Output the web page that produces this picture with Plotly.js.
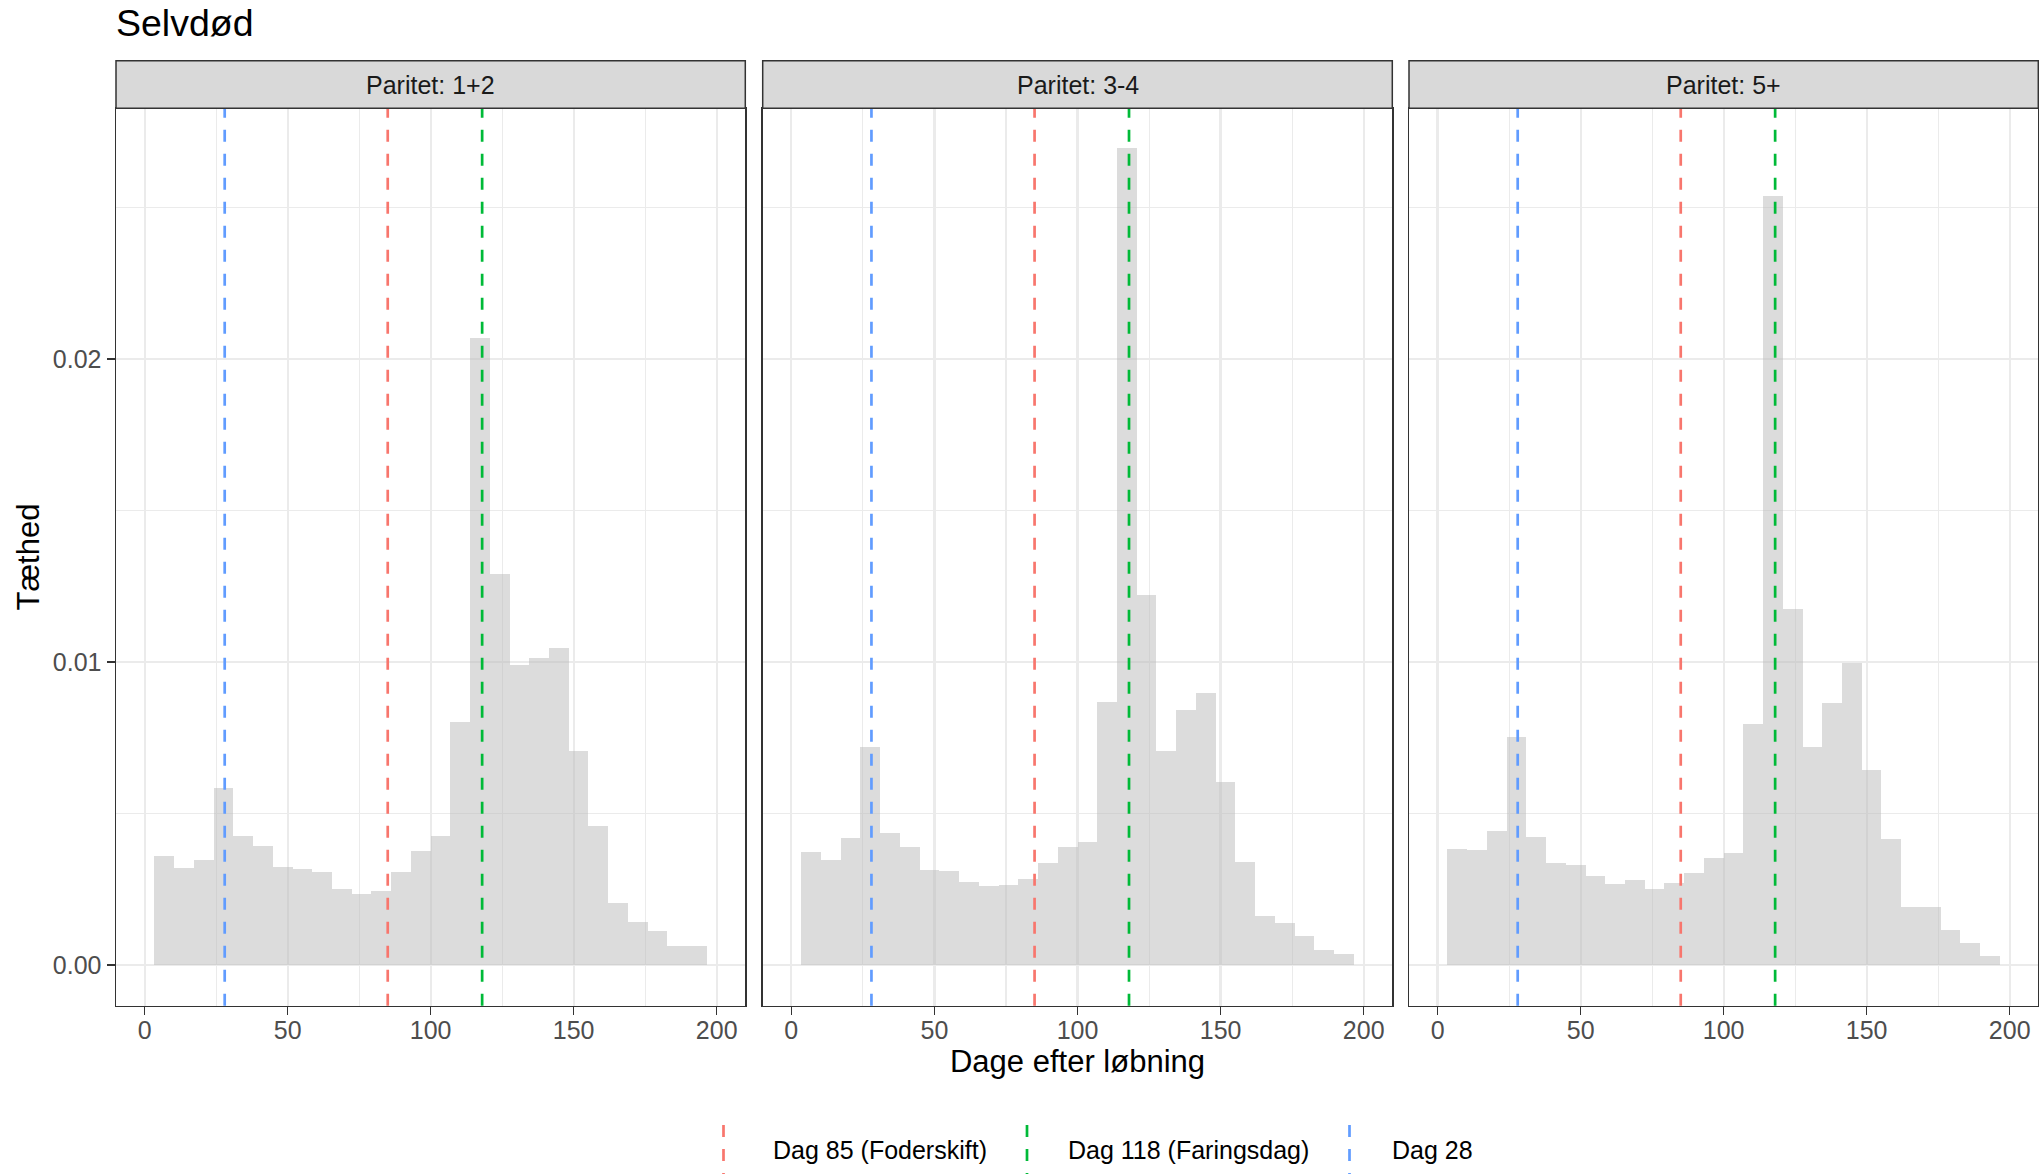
<!DOCTYPE html>
<html><head><meta charset="utf-8">
<script src="https://cdn.plot.ly/plotly-3.0.1.min.js"></script>
<style>html,body{margin:0;padding:0;background:#fff;}#chart{width:2039px;height:1174px;}</style>
</head><body><div id="chart"></div>
<script>
// ---------------- data ----------------
const chartTitle = "Selvdød";
const panelLabels = ["Paritet: 1+2", "Paritet: 3-4", "Paritet: 5+"];
const binCenters = [6.90, 13.79, 20.69, 27.59, 34.48, 41.38, 48.28, 55.17, 62.07, 68.97,
                    75.86, 82.76, 89.66, 96.55, 103.45, 110.34, 117.24, 124.14, 131.03, 137.93,
                    144.83, 151.72, 158.62, 165.52, 172.41, 179.31, 186.21, 193.10];
const densityParitet12 = [0.00361, 0.00319, 0.00346, 0.00585, 0.00427, 0.00392, 0.00322, 0.00316, 0.00308, 0.00252,
                          0.00234, 0.00244, 0.00308, 0.00375, 0.00425, 0.00802, 0.02071, 0.01291, 0.00989, 0.01013,
                          0.01045, 0.00706, 0.00459, 0.00205, 0.00143, 0.00112, 0.00062, 0.00061];
const densityParitet34 = [0.00372, 0.00347, 0.00419, 0.00719, 0.00436, 0.00390, 0.00314, 0.00310, 0.00275, 0.00262,
                          0.00264, 0.00285, 0.00337, 0.00390, 0.00405, 0.00868, 0.02696, 0.01221, 0.00705, 0.00843,
                          0.00899, 0.00603, 0.00341, 0.00161, 0.00140, 0.00097, 0.00050, 0.00037];
const densityParitet5 = [0.00384, 0.00378, 0.00442, 0.00754, 0.00421, 0.00337, 0.00329, 0.00293, 0.00267, 0.00279,
                         0.00250, 0.00269, 0.00302, 0.00353, 0.00368, 0.00797, 0.02537, 0.01176, 0.00721, 0.00864,
                         0.00998, 0.00643, 0.00417, 0.00190, 0.00192, 0.00116, 0.00072, 0.00031];
const markerDays = [85, 118, 28];
const markerLabels = ["Dag 85 (Foderskift)", "Dag 118 (Faringsdag)", "Dag 28"];
const xTickValues = [0, 50, 100, 150, 200];
const yTickValues = [0, 0.01, 0.02];
const xAxisTitle = "Dage efter løbning";
const yAxisTitle = "Tæthed";

// ---------------- styles / layout constants ----------------
const panelDensities = [densityParitet12, densityParitet34, densityParitet5];
const markerColors = ["#F8766D", "#00BA38", "#619CFF"];
const W = 2039, H = 1174;
const FONT = "Liberation Sans, Arial, Helvetica, sans-serif";
const panelPx = [[116, 745.3], [762.7, 1392.3], [1409, 2038.3]];
const panelTop = 108.3, panelBottom = 1005.7, stripTop = 60.7;
const px = x => x / W;
const py = y => 1 - y / H;
const binWidth = 200 / 29;
const xRange = [-10, 210];
const yRange = [-0.001345, 0.02828];
const legendKeyX = [723.5, 1027, 1349.5];
const legendTextX = [771, 1066, 1390];
const legendY = 1150;

const traces = [];
const shapes = [];
const annotations = [];
const layout = {
  width: W, height: H,
  margin: {l: 0, r: 0, t: 0, b: 0},
  paper_bgcolor: "#ffffff", plot_bgcolor: "#ffffff",
  showlegend: false,
  font: {family: FONT, color: "#000000"},
  title: {text: chartTitle, x: px(116), xanchor: "left", xref: "paper",
          y: py(23), yanchor: "middle", yref: "paper",
          font: {family: FONT, size: 37.5, color: "#000000"}},
  bargap: 0
};

panelDensities.forEach((vals, i) => {
  const n = i === 0 ? "" : String(i + 1);
  traces.push({
    type: "bar", x: binCenters, y: vals, width: binWidth,
    xaxis: "x" + n, yaxis: "y" + n,
    marker: {color: "rgba(185,185,185,0.5)", line: {width: 0}},
    hoverinfo: "x+y"
  });
  layout["xaxis" + n] = {
    domain: [px(panelPx[i][0]), px(panelPx[i][1])],
    anchor: "y" + n, range: xRange, fixedrange: true,
    tickmode: "array", tickvals: xTickValues, ticktext: xTickValues.map(String),
    ticks: "outside", ticklen: 8, tickwidth: 1.5, tickcolor: "#333333",
    ticklabelstandoff: -6,
    tickfont: {family: FONT, size: 25, color: "#4D4D4D"},
    showline: true, mirror: true, linecolor: "#333333", linewidth: 1.5,
    showgrid: true, gridcolor: "#EBEBEB", gridwidth: 2.2,
    minor: {tickvals: [25, 75, 125, 175], showgrid: true, gridcolor: "#EBEBEB", gridwidth: 1.1, ticks: ""},
    zeroline: false,
    title: i === 1 ? {text: xAxisTitle, standoff: 6, font: {family: FONT, size: 31, color: "#000000"}} : {text: ""}
  };
  layout["yaxis" + n] = {
    domain: [py(panelBottom), py(panelTop)],
    anchor: "x" + n, range: yRange, fixedrange: true,
    tickmode: "array", tickvals: yTickValues, ticktext: yTickValues.map(v => v.toFixed(2)),
    showticklabels: i === 0, ticks: i === 0 ? "outside" : "",
    ticklen: 8, tickwidth: 1.5, tickcolor: "#333333",
    ticklabelstandoff: 0,
    tickfont: {family: FONT, size: 25, color: "#4D4D4D"},
    showline: true, mirror: true, linecolor: "#333333", linewidth: 1.5,
    showgrid: true, gridcolor: "#EBEBEB", gridwidth: 2.2,
    minor: {tickvals: [0.005, 0.015, 0.025], showgrid: true, gridcolor: "#EBEBEB", gridwidth: 1.1, ticks: ""},
    zeroline: false,
    title: i === 0 ? {text: yAxisTitle, standoff: 4, font: {family: FONT, size: 31, color: "#000000"}} : {text: ""}
  };
  // vertical marker lines
  markerDays.forEach((d, k) => {
    shapes.push({type: "line", xref: "x" + n, yref: "y" + n + " domain",
      x0: d, x1: d, y0: 0, y1: 1,
      line: {color: markerColors[k], width: 2.7, dash: "12px,12px"}, layer: "above"});
  });
  // facet strip
  shapes.push({type: "rect", xref: "paper", yref: "paper",
    x0: px(panelPx[i][0]), x1: px(panelPx[i][1]), y0: py(panelTop), y1: py(stripTop),
    fillcolor: "#D9D9D9", line: {color: "#333333", width: 1.5}, layer: "above"});
  annotations.push({xref: "paper", yref: "paper",
    x: px((panelPx[i][0] + panelPx[i][1]) / 2), y: py((panelTop + stripTop) / 2),
    xanchor: "center", yanchor: "middle", showarrow: false,
    text: panelLabels[i], font: {family: FONT, size: 25, color: "#1A1A1A"}});
});

// legend (vertical dashed keys like ggplot's vline glyph)
markerLabels.forEach((lab, k) => {
  shapes.push({type: "line", xref: "paper", yref: "paper",
    x0: px(legendKeyX[k]), x1: px(legendKeyX[k]), y0: py(1125), y1: py(1174),
    line: {color: markerColors[k], width: 2.7, dash: "12px,12px"}});
  annotations.push({xref: "paper", yref: "paper", x: px(legendTextX[k]), y: py(legendY),
    xanchor: "left", yanchor: "middle", showarrow: false, text: lab,
    font: {family: FONT, size: 25, color: "#000000"}});
});

layout.shapes = shapes;
layout.annotations = annotations;
Plotly.newPlot("chart", traces, layout, {displayModeBar: false, staticPlot: true});
</script>
</body></html>
